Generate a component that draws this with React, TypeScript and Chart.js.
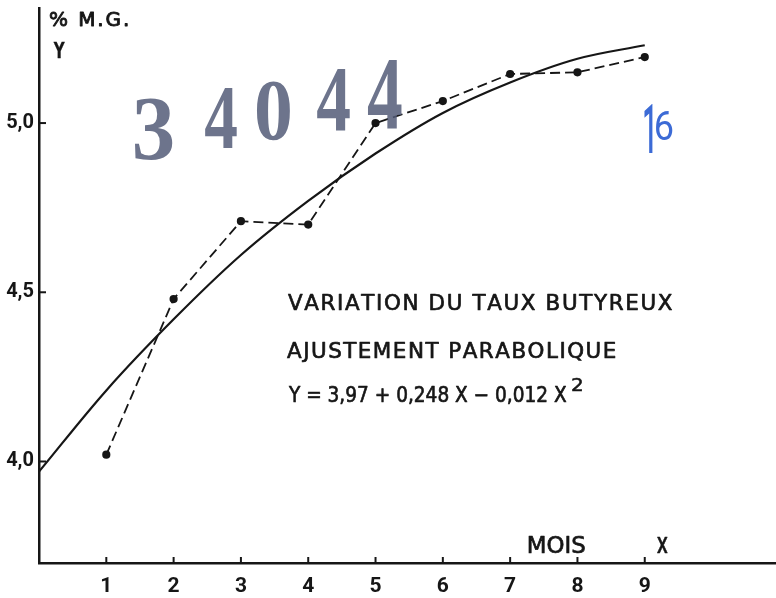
import React, { useEffect, useRef } from "react";
import { Chart, registerables } from "chart.js";

Chart.register(...registerables);

const months = [1, 2, 3, 4, 5, 6, 7, 8, 9];
const observed = [4.02, 4.48, 4.71, 4.7, 5.0, 5.065, 5.145, 5.15, 5.195];
const fitX = [0, 1, 2, 3, 4, 5, 6, 7, 8, 9];
const fitted = [3.97, 4.21, 4.42, 4.61, 4.77, 4.91, 5.03, 5.12, 5.19, 5.23];
const yTicks = [4.0, 4.5, 5.0];

const titleLine1 = "VARIATION DU TAUX BUTYREUX";
const titleLine2 = "AJUSTEMENT PARABOLIQUE";
const equation = "Y = 3,97 + 0,248 X \u2212 0,012 X";
const equationExp = "2";
const yAxisUnit = "% M.G.";
const yAxisName = "Y";
const xAxisUnit = "MOIS";
const xAxisName = "X";
const stampDigits = ["3", "4", "0", "4", "4"];
const handNote = ["1", "6"];

const INK = "#161616";
const SANS = "'DejaVu Sans', sans-serif";
const TICKFONT = "Roboto, 'DejaVu Sans', sans-serif";

// Fit text: y0 = cap top, y1 = baseline (cap height based), x0..x1 = ink width.
function capText(
  ctx: CanvasRenderingContext2D,
  text: string,
  x0: number,
  y0: number,
  x1: number,
  y1: number,
  font: string,
  color: string,
  embolden = 0
) {
  ctx.save();
  ctx.font = font;
  ctx.textBaseline = "alphabetic";
  ctx.textAlign = "left";
  const cap = ctx.measureText("H").actualBoundingBoxAscent;
  const m = ctx.measureText(text);
  const w = m.actualBoundingBoxLeft + m.actualBoundingBoxRight;
  const sy = (y1 - y0) / cap;
  const target = x1 - x0;
  const natural = w * sy;
  let sx = sy;
  let spacing = 0;
  if (natural < target && text.length > 1) {
    spacing = (target - natural) / sy / (text.length - 1);
  } else {
    sx = target / w;
  }
  ctx.translate(x0, y1);
  ctx.scale(sx, sy);
  ctx.fillStyle = color;
  ctx.strokeStyle = color;
  ctx.lineWidth = embolden / sy;
  ctx.lineJoin = "round";
  let cx = m.actualBoundingBoxLeft;
  for (const ch of spacing > 0 ? Array.from(text) : [text]) {
    ctx.fillText(ch, cx, 0);
    if (embolden > 0) ctx.strokeText(ch, cx, 0);
    cx += ctx.measureText(ch).width + spacing;
  }
  ctx.restore();
}

// Fit glyph ink box exactly
function boxText(
  ctx: CanvasRenderingContext2D,
  text: string,
  x0: number,
  y0: number,
  x1: number,
  y1: number,
  font: string,
  color: string
) {
  ctx.save();
  ctx.font = font;
  ctx.textBaseline = "alphabetic";
  ctx.textAlign = "left";
  const m = ctx.measureText(text);
  const w = m.actualBoundingBoxLeft + m.actualBoundingBoxRight;
  const h = m.actualBoundingBoxAscent + m.actualBoundingBoxDescent;
  ctx.translate(x0, y0);
  ctx.scale((x1 - x0) / w, (y1 - y0) / h);
  ctx.fillStyle = color;
  ctx.fillText(text, m.actualBoundingBoxLeft, m.actualBoundingBoxAscent);
  ctx.restore();
}

const decorPlugin = {
  id: "decor",
  afterDraw(chart: any) {
    const ctx: CanvasRenderingContext2D = chart.ctx;
    const xs = chart.scales.x;
    const ys = chart.scales.y;
    const area = chart.chartArea;
    ctx.save();
    ctx.strokeStyle = INK;
    ctx.lineWidth = 2;
    months.forEach((m) => {
      const px = xs.getPixelForValue(m);
      ctx.beginPath();
      ctx.moveTo(px, area.bottom);
      ctx.lineTo(px, area.bottom - 6);
      ctx.stroke();
    });
    yTicks.forEach((v) => {
      const py = ys.getPixelForValue(v);
      ctx.beginPath();
      ctx.moveTo(area.left, py);
      ctx.lineTo(area.left + 7, py);
      ctx.stroke();
    });
    ctx.restore();

    // axis names
    capText(ctx, yAxisUnit, 50, 12, 128, 26, `20px ${SANS}`, INK, 0.9);
    capText(ctx, yAxisName, 53, 43, 65, 58, `bold 20px ${SANS}`, INK, 0.3);
    capText(ctx, xAxisUnit, 528, 537, 585, 553, `20px ${SANS}`, INK, 0.7);
    capText(ctx, xAxisName, 657, 537, 668, 553, `500 20px ${TICKFONT}`, INK, 0.5);

    // annotation
    capText(ctx, titleLine1, 288, 295, 668, 310, `20px ${SANS}`, INK, 0.7);
    capText(ctx, titleLine2, 287, 343, 613, 358, `20px ${SANS}`, INK, 0.7);
    capText(ctx, equation, 288, 387, 567, 402, `20px ${SANS}`, INK, 0.7);
    capText(ctx, equationExp, 572, 379, 582, 391, `20px ${SANS}`, INK, 0.5);

    // stamp
    const stampBoxes = [
      [135, 98, 173, 160],
      [205, 88, 237, 148],
      [257, 80, 290, 140],
      [317, 68, 350, 130],
      [368, 60, 402, 128],
    ];
    stampDigits.forEach((d, i) => {
      const b = stampBoxes[i];
      boxText(ctx, d, b[0], b[1], b[2], b[3], `bold 80px 'Liberation Serif', 'DejaVu Serif', serif`, "rgba(84,92,120,0.85)");
    });

    // handwritten note
    boxText(ctx, handNote[0], 644, 105, 653, 153, `500 30px ${TICKFONT}`, "#3c6bd6");
    boxText(ctx, handNote[1], 655, 112, 673, 140, `400 30px ${TICKFONT}`, "#3c6bd6");
  },
};

export default function App() {
  const ref = useRef<HTMLCanvasElement | null>(null);

  useEffect(() => {
    if (!ref.current) return;
    const chart = new Chart(ref.current, {
      type: "line",
      data: {
        datasets: [
          {
            label: "ajustement",
            data: fitX.map((x, i) => ({ x, y: fitted[i] })),
            borderColor: INK,
            borderWidth: 2.2,
            pointRadius: 0,
            tension: 0.35,
            fill: false,
          },
          {
            label: "observé",
            data: months.map((x, i) => ({ x, y: observed[i] })),
            borderColor: INK,
            borderWidth: 1.8,
            borderDash: [10, 5],
            pointRadius: 3.2,
            pointBackgroundColor: INK,
            pointBorderColor: INK,
            tension: 0,
            fill: false,
          },
        ],
      },
      options: {
        animation: false,
        responsive: true,
        maintainAspectRatio: false,
        layout: { autoPadding: false, padding: { top: 8, right: 0, left: 0, bottom: 0 } },
        plugins: {
          legend: { display: false },
          tooltip: { enabled: false },
        },
        scales: {
          x: {
            type: "linear",
            min: 0,
            max: 10.95,
            afterBuildTicks: (s: any) => {
              s.ticks = months.map((v) => ({ value: v }));
            },
            afterFit: (s: any) => {
              s.height = 35;
              s.paddingLeft = 0;
              s.paddingRight = 0;
              s.paddingTop = 0;
              s.paddingBottom = 0;
            },
            grid: { display: false, drawTicks: false },
            border: { display: true, color: INK, width: 2.5 },
            ticks: {
              color: INK,
              padding: 11,
              font: { family: TICKFONT, size: 21, weight: "bold" },
              callback: (v: any) => String(v),
              maxRotation: 0,
            },
          },
          y: {
            type: "linear",
            min: 3.7,
            max: 5.34,
            afterBuildTicks: (s: any) => {
              s.ticks = yTicks.map((v) => ({ value: v }));
            },
            afterFit: (s: any) => {
              s.width = 39;
              s.paddingLeft = 0;
              s.paddingRight = 0;
              s.paddingTop = 0;
              s.paddingBottom = 0;
            },
            grid: { display: false, drawTicks: false },
            border: { display: true, color: INK, width: 2.5 },
            ticks: {
              color: INK,
              padding: 5,
              font: { family: TICKFONT, size: 20, weight: "bold" },
              callback: (v: any) => Number(v).toFixed(1).replace(".", ","),
            },
          },
        },
      },
      plugins: [decorPlugin],
    });
    return () => chart.destroy();
  }, []);

  return (
    <div style={{ position: "absolute", left: 0, top: 0, width: 776, height: 598, background: "#fff" }}>
      <canvas ref={ref} />
    </div>
  );
}
